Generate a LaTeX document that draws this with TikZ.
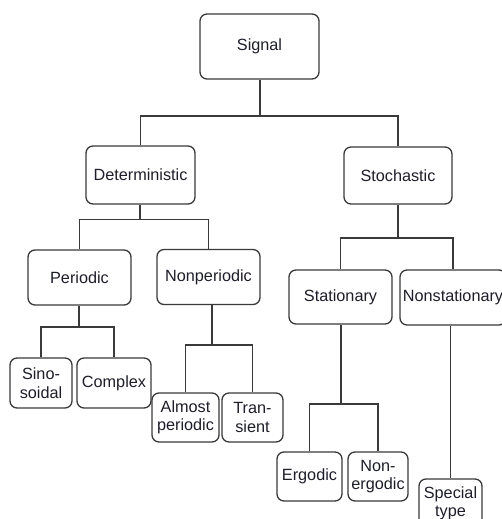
\documentclass[tikz,border=0pt]{standalone}
\usepackage{fontspec}
\setmainfont{Liberation Sans}
\definecolor{edge}{HTML}{3A3A3A}
\definecolor{ink}{HTML}{1E1E2A}
\tikzset{
  box/.style={draw=edge, line width=1.3bp, rounded corners=7bp, fill=white,
    inner sep=0pt, align=center, text=ink,
    font=\fontsize{16.3}{18.5}\selectfont},
  link/.style={draw=edge, line width=1.2bp}
}
\begin{document}
\begin{tikzpicture}[x=1bp, y=-1bp]
\clip (0,0) rectangle (502,519);

% level 0
\node[box, minimum width=119bp, minimum height=65bp] (sig) at (259.5,46.5) {Signal};

% level 1
\node[box, minimum width=109bp, minimum height=58bp] (det) at (140.5,175) {Deterministic};
\node[box, minimum width=108bp, minimum height=57bp] (sto) at (398,175.5) {Stochastic};

% level 2
\node[box, minimum width=103bp, minimum height=55bp] (per) at (79.5,277.5) {Periodic};
\node[box, minimum width=103bp, minimum height=55bp] (nper) at (208.5,277) {Nonperiodic};
\node[box, minimum width=103bp, minimum height=54bp] (sta) at (340.5,297) {Stationary};
\node[box, minimum width=106bp, minimum height=55bp] (nsta) at (453,297.5) {Nonstationary};

% leaves
\node[box, minimum width=62bp, minimum height=50bp] (sin) at (41,383) {Sino-\\soidal};
\node[box, minimum width=74bp, minimum height=50bp] (cpx) at (114,383) {Complex};
\node[box, minimum width=67bp, minimum height=49bp] (alm) at (185.5,417.5) {Almost\\periodic};
\node[box, minimum width=61bp, minimum height=49bp] (tra) at (252.5,417.5) {Tran-\\sient};
\node[box, minimum width=65bp, minimum height=49bp] (erg) at (309.5,476.5) {Ergodic};
\node[box, minimum width=60bp, minimum height=49bp] (nerg) at (378,476.5) {Non-\\ergodic};
\node[box, minimum width=63bp, minimum height=49bp] (spc) at (450.5,503.5) {Special\\type};

% branch points
\coordinate (j-sig) at (260,116);
\coordinate (j-det) at (140,219.5);
\coordinate (j-sto) at (398,238);
\coordinate (j-per) at (79,327);
\coordinate (j-nper) at (212,345);
\coordinate (j-sta) at (341,404);

% connectors
\draw[link] (sig.south -| j-sig) -- (j-sig);
\draw[link] (det.north) |- (j-sig) -| (sto.north);

\draw[link] (det.south -| j-det) -- (j-det);
\draw[link] (per.north) |- (j-det) -| (nper.north);

\draw[link] (sto.south -| j-sto) -- (j-sto);
\draw[link] (sta.north) |- (j-sto) -| (nsta.north);

\draw[link] (per.south -| j-per) -- (j-per);
\draw[link] (sin.north) |- (j-per) -| (cpx.north);

\draw[link] (nper.south -| j-nper) -- (j-nper);
\draw[link] (alm.north) |- (j-nper) -| (tra.north);

\draw[link] (sta.south -| j-sta) -- (j-sta);
\draw[link] (erg.north) |- (j-sta) -| (nerg.north);

\draw[link] (nsta.south -| spc.north) -- (spc.north);
\end{tikzpicture}
\end{document}
